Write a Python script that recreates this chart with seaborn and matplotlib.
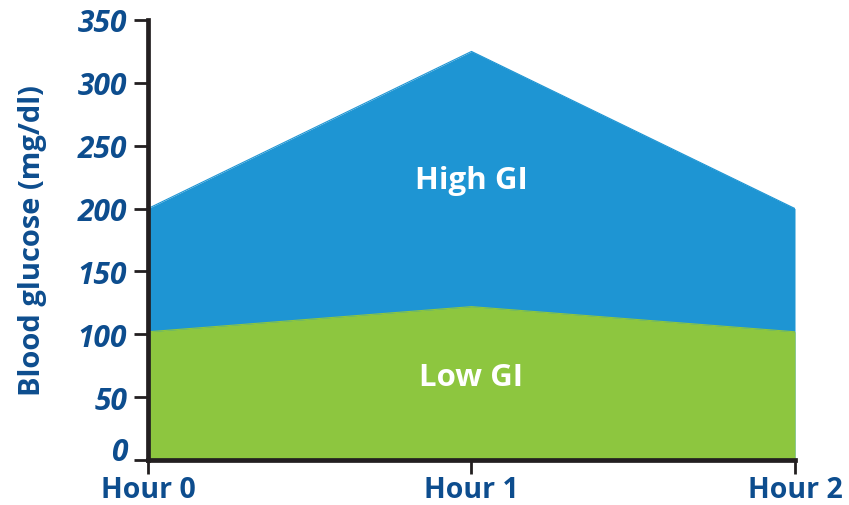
import matplotlib
matplotlib.use('Agg')
import matplotlib.pyplot as plt
import pandas as pd
import seaborn as sns

hours = ['Hour 0', 'Hour 1', 'Hour 2']
high_gi = [200, 325, 200]
low_gi = [102, 122, 102]
y_ticks = [0, 50, 100, 150, 200, 250, 300, 350]

BLUE = '#1e95d3'
GREEN = '#8dc63f'
NAVY = '#0d4d8e'
SPINE = '#231f20'

sns.set_theme(style='ticks')
plt.rcParams['font.family'] = ['Open Sans', 'DejaVu Sans']

df = pd.DataFrame({'x': range(len(hours)), 'high': high_gi, 'low': low_gi})

fig = plt.figure(figsize=(8.49, 5.06), dpi=100)
ax = fig.add_axes([0.1743, 0.0889, 0.7621, 0.8696])

ax.fill_between(df['x'], 0, df['high'], color=BLUE, lw=0)
ax.fill_between(df['x'], 0, df['low'], color=GREEN, lw=0)
sns.lineplot(data=df, x='x', y='high', color=BLUE, lw=0.8, ax=ax)
sns.lineplot(data=df, x='x', y='low', color=GREEN, lw=0.8, ax=ax)

ax.text(1, 223, 'High GI', color='white', fontsize=22.5, fontweight='bold',
        ha='center', va='center')
ax.text(1, 66, 'Low GI', color='white', fontsize=22.5, fontweight='bold',
        ha='center', va='center')

ax.set_xlim(0, 2)
ax.set_ylim(0, 350)
ax.set_xticks(range(len(hours)))
ax.set_xticklabels(hours)
ax.set_yticks(y_ticks)
ax.set_yticklabels([str(v) for v in y_ticks])
ax.set_xlabel('')
ax.set_ylabel('Blood glucose (mg/dl)', color=NAVY, fontsize=21, fontweight='bold',
              labelpad=22)

for lab in ax.get_yticklabels():
    lab.set_fontstyle('italic')
    lab.set_fontweight('bold')
    lab.set_fontsize(21.5)
    lab.set_color(NAVY)
for lab in ax.get_xticklabels():
    lab.set_fontweight('bold')
    lab.set_fontsize(20.5)
    lab.set_color(NAVY)

# the zero label sits on the tick so it clears "Hour 0", as in the original
ax.get_yticklabels()[0].set_verticalalignment('baseline')

sns.despine(ax=ax)
for side in ['left', 'bottom']:
    ax.spines[side].set_linewidth(3.4)
    ax.spines[side].set_color(SPINE)
ax.tick_params(axis='both', length=10, width=2, color=SPINE)
ax.tick_params(axis='y', pad=5)
ax.tick_params(axis='x', pad=1)

fig.savefig('out.png', dpi=100)
